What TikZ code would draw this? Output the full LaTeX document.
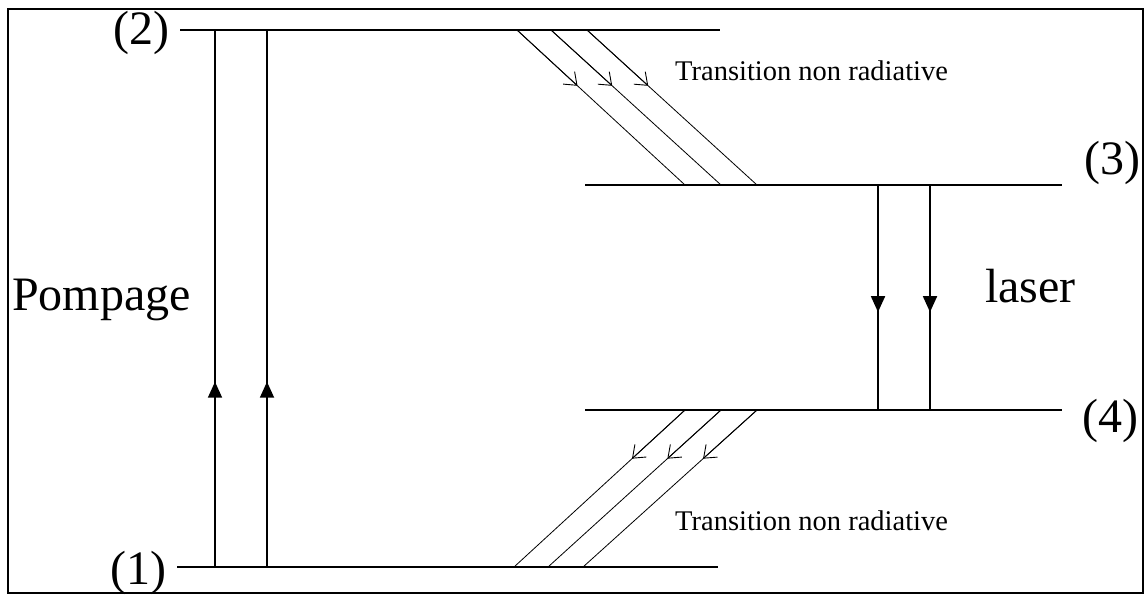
\documentclass[tikz,border=0pt]{standalone}
\usepackage{fontspec}
\setmainfont{Liberation Serif}
\usetikzlibrary{arrows.meta,
	calc}

\tikzset{
	level/.style={line width=1.2pt},
	bigtext/.style={inner sep=0pt, font=\fontsize{48}{52}\selectfont},
	smalltext/.style={inner sep=0pt, font=\fontsize{28.5}{32}\selectfont},
	radline/.style={line width=1.8pt},
	radtip/.style={line width=1.8pt, -{Triangle[length=16pt,width=14pt]}},
	nonrad/.style={line width=0.8pt},
	nonradtip/.style={line width=0.9pt, -{Straight Barb[length=11pt,width=17pt]}}
}

\begin{document}
\begin{tikzpicture}[x=1pt,y=-1pt]
        \useasboundingbox (0,0) rectangle (1145,595);
        \draw [line width=1.8pt] (8,9) rectangle (1143,593);

        %levels
        \coordinate (n2l) at (180,30);
        \coordinate (n2r) at (720,30);
        \coordinate (n1l) at (177,567);
        \coordinate (n1r) at (718,567);
        \coordinate (n3l) at (585,185);
        \coordinate (n3r) at (1062,185);
        \coordinate (n4l) at (585,410);
        \coordinate (n4r) at (1062,410);
        \draw [level] (n2l)--(n2r);
        \draw [level] (n1l)--(n1r);
        \draw [level] (n3l)--(n3r);
        \draw [level] (n4l)--(n4r);

        \node [bigtext, anchor=base east] (lab2) at (170,44) {(2)};
        \node [bigtext, anchor=base east] (lab1) at (167,584) {(1)};
        \node [bigtext, anchor=base east] (lab3) at (1141,174) {(3)};
        \node [bigtext, anchor=base east] (lab4) at (1139,432) {(4)};

        %pompage
        \coordinate (pa1) at (215,567);
        \coordinate (pa2) at (215,30);
        \coordinate (pb1) at (267,567);
        \coordinate (pb2) at (267,30);
        \draw [radline] (pa1)--(pa2);
        \draw [radline] (pb1)--(pb2);
        \draw [radtip] (pa1)--($(pa1)!0.345!(pa2)$);
        \draw [radtip] (pb1)--($(pb1)!0.345!(pb2)$);
        \node [bigtext, anchor=base west] (pomp) at (12,310) {Pompage};

        %laser
        \coordinate (la1) at (878,185);
        \coordinate (la2) at (878,410);
        \coordinate (lb1) at (930,185);
        \coordinate (lb2) at (930,410);
        \draw [radline] (la1)--(la2);
        \draw [radline] (lb1)--(lb2);
        \draw [radtip] (la1)--($(la1)!0.565!(la2)$);
        \draw [radtip] (lb1)--($(lb1)!0.565!(lb2)$);
        \node [bigtext, anchor=base west] (las) at (985,302) {laser};

        %transitions non radiatives
        \foreach \xa/\xb/\i in {517/685/1, 551/721/2, 587/757/3} {
            \coordinate (ht\i) at (\xa,30);
            \coordinate (hb\i) at (\xb,185);
            \draw [nonrad] (ht\i)--(hb\i);
            \draw [nonradtip] (ht\i)--($(ht\i)!0.36!(hb\i)$);
        }
        \foreach \xa/\xb/\i in {685/514/1, 721/548/2, 757/583/3} {
            \coordinate (bt\i) at (\xa,410);
            \coordinate (bb\i) at (\xb,567);
            \draw [nonrad] (bt\i)--(bb\i);
            \draw [nonradtip] (bt\i)--($(bt\i)!0.31!(bb\i)$);
        }
        \node [smalltext, anchor=base west] (nr1) at (675,80) {Transition non radiative};
        \node [smalltext, anchor=base west] (nr2) at (675,530) {Transition non radiative};

    \end{tikzpicture}
\end{document}
